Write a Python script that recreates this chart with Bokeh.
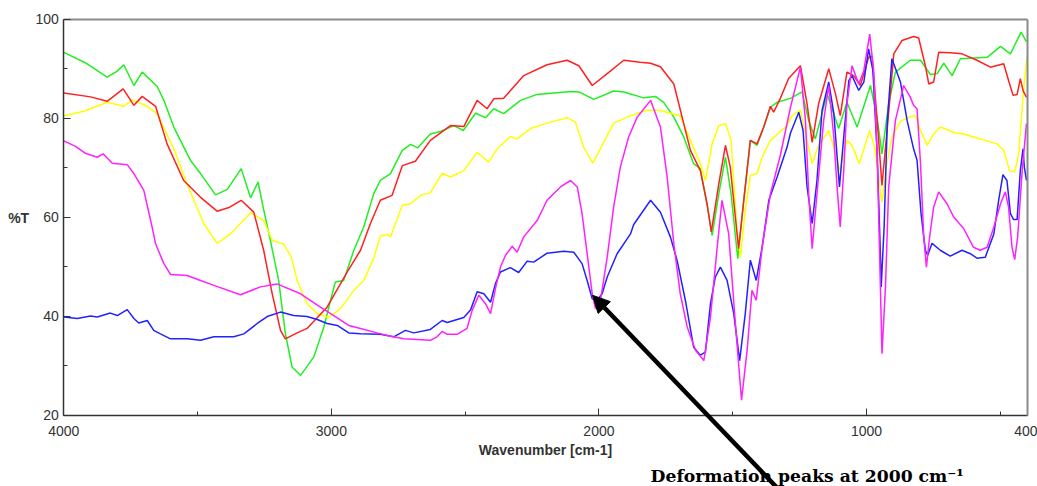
from bokeh.plotting import figure
from bokeh.models import Range1d, FixedTicker, Label, Arrow, NormalHead, LinearAxis
from bokeh.embed import file_html
from bokeh.resources import INLINE

# ---------------- data (wavenumber cm-1, %T) ----------------
green_wn = [4000, 3920, 3838, 3800, 3776, 3738, 3707, 3651, 3626, 3589, 3527, 3489, 3433, 3389, 3337, 3302, 3274, 3255,
            3228, 3197, 3172, 3147, 3115, 3066, 3028, 3003, 2985, 2954, 2916, 2879, 2842, 2817, 2779, 2735, 2704, 2677,
            2630, 2592, 2542, 2507, 2461, 2424, 2393, 2356, 2293, 2231, 2106, 2075, 2019, 1945, 1907, 1833, 1789, 1758,
            1720, 1683, 1646, 1621, 1596, 1577, 1552, 1527, 1506, 1481, 1459, 1434, 1409, 1384, 1359, 1334, 1284, 1241,
            1216, 1191, 1147, 1104, 1073, 1035, 985, 960, 942, 917, 892, 836, 798, 761, 736, 711, 680, 649, 549, 499,
            462, 422, 402]
green_t = [93.3, 91.2, 88.3, 89.5, 90.8, 86.6, 89.3, 86.4, 83.6, 78.2, 71.5, 68.8, 64.5, 65.6, 69.8, 63.9, 67.1, 62.0,
           55.3, 47.2, 36.5, 29.7, 28.0, 31.7, 37.8, 43.2, 46.9, 47.2, 53.3, 58.0, 64.7, 67.4, 68.8, 73.5, 74.7, 74.0,
           76.8, 77.3, 78.5, 77.5, 81.0, 80.1, 81.9, 80.9, 83.6, 84.8, 85.4, 85.3, 83.8, 85.5, 85.3, 84.1, 84.4, 83.2,
           80.2, 76.2, 70.8, 69.8, 62.7, 56.3, 64.7, 72.1, 64.7, 51.6, 63.4, 75.5, 74.5, 78.2, 82.2, 83.2, 84.0, 85.3,
           79.5, 75.8, 84.9, 77.9, 83.2, 78.2, 86.6, 80.0, 72.8, 82.9, 89.3, 91.7, 91.7, 88.8, 89.0, 91.1, 88.6, 92.0,
           92.3, 94.5, 93.0, 97.4, 95.4]

red_wn = [4000, 3900, 3838, 3778, 3738, 3707, 3657, 3614, 3552, 3489, 3427, 3380, 3337, 3290, 3253, 3221, 3190, 3172,
          3128, 3091, 3016, 2941, 2891, 2854, 2817, 2773, 2735, 2686, 2630, 2555, 2505, 2455, 2418, 2393, 2356, 2281,
          2194, 2119, 2075, 2025, 1969, 1907, 1846, 1807, 1770, 1720, 1683, 1658, 1621, 1596, 1580, 1552, 1527, 1509,
          1478, 1453, 1434, 1409, 1384, 1359, 1347, 1322, 1291, 1247, 1222, 1203, 1179, 1141, 1116, 1098, 1073, 1048,
          1023, 992, 979, 960, 942, 923, 898, 867, 824, 805, 780, 767, 749, 730, 687, 643, 587, 537, 487, 469, 452,
          437, 425, 415, 402]
red_t = [85.1, 84.3, 83.4, 85.9, 82.6, 84.4, 82.4, 74.8, 67.4, 64.0, 61.2, 62.0, 63.4, 61.0, 53.3, 44.5, 37.1, 35.4,
         36.6, 37.5, 41.8, 48.9, 53.3, 58.7, 63.4, 64.4, 70.4, 71.3, 75.5, 78.5, 78.3, 83.6, 81.9, 83.9, 84.0, 88.6,
         90.8, 91.7, 90.6, 86.6, 89.0, 91.7, 91.3, 91.1, 90.4, 86.9, 78.9, 73.5, 69.4, 62.7, 57.0, 66.7, 74.5, 70.1,
         53.6, 66.1, 75.5, 74.8, 78.2, 82.4, 81.2, 84.0, 88.0, 90.6, 82.9, 75.1, 82.9, 90.0, 84.9, 80.5, 89.3, 88.6,
         86.6, 92.3, 92.5, 79.5, 66.4, 77.5, 93.0, 95.7, 96.5, 96.2, 90.6, 86.9, 87.3, 93.3, 93.2, 93.0, 91.7, 90.3,
         91.0, 87.6, 84.6, 84.8, 88.0, 85.6, 84.2]

yellow_wn = [4000, 3925, 3838, 3776, 3744, 3688, 3651, 3589, 3539, 3477, 3427, 3377, 3302, 3253, 3221, 3178, 3150,
             3128, 3091, 3053, 3010, 2966, 2916, 2879, 2842, 2817, 2790, 2779, 2735, 2704, 2667, 2630, 2586, 2555,
             2505, 2455, 2412, 2380, 2331, 2306, 2256, 2194, 2119, 2088, 2057, 2023, 1988, 1945, 1882, 1820, 1776,
             1696, 1658, 1621, 1602, 1577, 1552, 1527, 1506, 1484, 1471, 1453, 1434, 1409, 1390, 1359, 1322, 1297,
             1278, 1247, 1222, 1203, 1179, 1141, 1122, 1100, 1073, 1054, 1027, 988, 969, 954, 942, 926, 905, 873, 836,
             817, 798, 773, 749, 724, 668, 637, 587, 512, 487, 465, 446, 431, 412, 400]
yellow_t = [80.5, 81.4, 83.2, 82.4, 83.7, 82.4, 80.9, 73.8, 66.7, 58.7, 54.7, 56.6, 60.9, 59.3, 55.3, 54.5, 52.0,
            47.2, 42.5, 40.5, 39.7, 41.5, 45.2, 47.2, 51.6, 56.2, 56.5, 56.0, 62.4, 62.7, 64.4, 64.9, 68.9, 68.1,
            69.4, 73.1, 71.1, 73.8, 76.3, 75.8, 77.9, 79.0, 80.1, 79.2, 74.1, 70.9, 74.5, 79.0, 80.5, 81.6, 81.6,
            80.5, 75.5, 70.8, 67.4, 74.8, 78.5, 78.9, 75.5, 57.3, 51.9, 61.4, 68.4, 68.8, 72.1, 75.5, 77.3, 78.5,
            80.5, 81.6, 75.5, 70.8, 74.5, 77.5, 74.1, 69.4, 75.5, 74.5, 70.8, 77.5, 74.1, 67.4, 63.0, 70.1, 76.2,
            79.4, 80.3, 80.5, 77.5, 74.5, 76.8, 78.2, 77.0, 76.8, 76.0, 74.8, 73.5, 69.4, 69.1, 72.8, 86.3, 92.3]

magenta_wn = [4000, 3956, 3919, 3875, 3853, 3819, 3763, 3738, 3701, 3670, 3657, 3626, 3601, 3539, 3489, 3439, 3340,
              3265, 3203, 3115, 3041, 2991, 2935, 2891, 2829, 2779, 2729, 2630, 2605, 2586, 2567, 2530, 2493, 2474,
              2449, 2424, 2405, 2387, 2368, 2349, 2324, 2306, 2281, 2231, 2194, 2144, 2106, 2081, 2063, 2044, 2025,
              2013, 1994, 1969, 1945, 1920, 1889, 1857, 1807, 1770, 1745, 1720, 1696, 1670, 1639, 1608, 1583, 1558,
              1540, 1515, 1490, 1467, 1446, 1428, 1412, 1390, 1359, 1322, 1284, 1247, 1228, 1216, 1203, 1185, 1160,
              1141, 1122, 1110, 1098, 1085, 1073, 1054, 1029, 1010, 988, 973, 960, 951, 942, 929, 917, 892, 861, 836,
              824, 811, 798, 786, 776, 764, 749, 730, 699, 674, 637, 600, 575, 549, 524, 499, 481, 469, 456, 446, 435,
              418, 402]
magenta_t = [75.4, 74.3, 72.9, 72.1, 72.8, 70.9, 70.6, 68.8, 65.4, 58.0, 54.6, 50.6, 48.4, 48.2, 47.2, 46.2, 44.3,
             45.9, 46.5, 44.5, 41.8, 40.1, 38.1, 37.5, 36.6, 35.9, 35.4, 35.1, 35.8, 36.9, 36.3, 36.3, 37.5, 41.1,
             44.2, 42.5, 40.5, 45.5, 49.9, 52.3, 54.1, 52.9, 56.0, 59.3, 63.4, 66.1, 67.4, 66.1, 60.7, 52.6, 44.5,
             41.5, 43.2, 51.9, 62.0, 70.1, 76.2, 80.2, 83.6, 78.2, 68.1, 54.6, 44.5, 37.8, 33.1, 31.0, 39.8, 53.9,
             63.4, 56.6, 38.5, 23.0, 33.1, 45.2, 43.2, 53.9, 64.7, 72.5, 82.2, 90.3, 79.5, 64.7, 53.6, 64.7, 79.5,
             86.6, 76.2, 66.1, 58.0, 69.4, 82.9, 90.6, 86.9, 89.6, 97.0, 89.6, 72.8, 52.6, 32.4, 45.9, 66.1, 79.5,
             86.6, 84.2, 82.6, 81.9, 70.8, 56.0, 49.9, 56.0, 62.0, 65.1, 62.7, 60.0, 57.7, 53.9, 53.3, 53.9, 58.0,
             62.7, 65.1, 62.0, 53.9, 51.4, 56.0, 69.4, 78.9]

blue_wn = [4000, 3950, 3900, 3875, 3826, 3800, 3763, 3738, 3720, 3688, 3664, 3639, 3601, 3539, 3489, 3439, 3365, 3327,
           3277, 3240, 3190, 3141, 3091, 3053, 3016, 2978, 2935, 2891, 2817, 2767, 2723, 2692, 2630, 2586, 2567, 2505,
           2480, 2455, 2430, 2405, 2387, 2368, 2331, 2300, 2268, 2244, 2194, 2131, 2094, 2063, 2044, 2025, 2007, 1988,
           1969, 1932, 1882, 1870, 1807, 1770, 1733, 1708, 1677, 1646, 1621, 1602, 1583, 1565, 1546, 1521, 1496, 1474,
           1453, 1434, 1412, 1390, 1365, 1334, 1297, 1284, 1253, 1237, 1222, 1203, 1185, 1166, 1141, 1122, 1101, 1085,
           1066, 1054, 1029, 1010, 992, 976, 960, 948, 945, 934, 922, 905, 873, 848, 824, 811, 796, 780, 771, 755, 724,
           687, 643, 612, 587, 556, 524, 506, 490, 475, 462, 450, 437, 425, 415, 410, 402]
blue_t = [39.8, 39.5, 40.0, 39.8, 40.6, 40.1, 41.3, 39.5, 38.6, 39.1, 37.1, 36.4, 35.4, 35.4, 35.1, 35.8, 35.8, 36.4,
          38.5, 39.9, 40.8, 40.1, 39.9, 39.3, 38.5, 38.1, 36.6, 36.4, 36.3, 35.8, 37.1, 36.6, 37.3, 39.1, 38.7, 39.7,
          41.2, 44.9, 44.5, 42.8, 46.5, 48.9, 49.8, 48.8, 51.1, 50.9, 52.7, 53.1, 52.9, 50.6, 47.2, 43.5, 43.2, 44.5,
          47.9, 52.6, 56.6, 58.5, 63.4, 61.0, 56.0, 51.3, 43.2, 33.7, 32.1, 32.7, 42.5, 47.9, 49.9, 47.2, 40.5, 31.0,
          40.5, 51.3, 47.2, 53.9, 63.4, 68.1, 74.1, 77.0, 81.2, 77.5, 66.1, 58.7, 67.4, 81.6, 87.3, 80.9, 66.1, 76.2,
          87.6, 88.6, 85.6, 87.3, 94.0, 89.6, 72.8, 52.6, 45.9, 58.0, 79.5, 92.0, 87.3, 79.5, 73.8, 71.5, 60.7, 53.3,
          52.3, 54.7, 53.3, 52.1, 53.3, 52.6, 51.7, 51.9, 56.6, 63.4, 68.6, 67.4, 60.7, 59.5, 59.5, 69.4, 73.8, 70.1,
          67.4]

x_ticks = [4000, 3000, 2000, 1000, 400]
x_minor = [3500, 2500, 1500, 500]
y_ticks = [20, 40, 60, 80, 100]
y_minor = [30, 50, 70, 90]

# annotation anchor: arrow from the text up to the 2000 cm-1 dip
arrow_head = (2024, 44.2)
arrow_tail = (1320, 4.5)

# ---------------- figure ----------------
# The frame fills the whole canvas so nothing (tick labels, annotation) is clipped;
# the four axes are pinned at the spectrum's limits (4000/400 cm-1, 20/100 %T).
p = figure(width=1037, height=486, output_backend="svg", toolbar_location=None,
           x_range=Range1d(4236.6, 360.8), y_range=Range1d(5.55, 103.78),
           min_border_left=0, min_border_right=0, min_border_top=0, min_border_bottom=0)
p.background_fill_color = "white"
p.border_fill_color = "white"
p.outline_line_color = None
p.xgrid.visible = False
p.ygrid.visible = False

for ax, ticks, minor in ((p.xaxis[0], x_ticks, x_minor), (p.yaxis[0], y_ticks, y_minor)):
    ax.ticker = FixedTicker(ticks=ticks, minor_ticks=minor)
    ax.major_tick_in = 7
    ax.major_tick_out = 0
    ax.minor_tick_in = 4
    ax.minor_tick_out = 0
    ax.axis_line_color = "#333333"
    ax.axis_line_width = 1.5
    ax.major_tick_line_color = "#333333"
    ax.minor_tick_line_color = "#333333"
    ax.major_label_text_font = "Liberation Sans"
    ax.major_label_text_font_size = "14px"
    ax.major_label_text_color = "#333333"
    ax.axis_label_text_font = "Liberation Sans"
    ax.axis_label_text_font_size = "14px"
    ax.axis_label_text_font_style = "bold"
    ax.axis_label_text_color = "#333333"

p.xaxis.fixed_location = 20
p.xaxis.bounds = (400, 4000)
p.xaxis.axis_label = "Wavenumber [cm-1]"
p.xaxis.major_label_standoff = 11
p.xaxis.axis_label_standoff = 2
p.yaxis.fixed_location = 4000
p.yaxis.bounds = (20, 100)
p.yaxis.axis_label = "%T"
p.yaxis.axis_label_orientation = "horizontal"
p.yaxis.major_label_standoff = 5
p.yaxis.axis_label_standoff = 3

# grey frame lines on top and right
top_border = LinearAxis(ticker=FixedTicker(ticks=[]), axis_line_color="#8a8a8a", axis_line_width=2,
                        major_tick_line_color=None, minor_tick_line_color=None,
                        fixed_location=100, bounds=(400, 4000))
right_border = LinearAxis(ticker=FixedTicker(ticks=[]), axis_line_color="#8a8a8a", axis_line_width=2,
                          major_tick_line_color=None, minor_tick_line_color=None,
                          fixed_location=400, bounds=(20, 100))
p.add_layout(top_border, "above")
p.add_layout(right_border, "right")

p.line(green_wn, green_t, line_color="#22ee22", line_width=1.5)
p.line(yellow_wn, yellow_t, line_color="#ffff00", line_width=1.5)
p.line(red_wn, red_t, line_color="#ff2020", line_width=1.5)
p.line(blue_wn, blue_t, line_color="#2222ff", line_width=1.5)
p.line(magenta_wn, magenta_t, line_color="#ff22ff", line_width=1.5)

# ---------------- annotation ----------------
p.add_layout(Arrow(end=NormalHead(size=17, fill_color="black", line_color="black"),
                   x_start=arrow_tail[0], y_start=arrow_tail[1], x_end=arrow_head[0], y_end=arrow_head[1],
                   line_color="black", line_width=4.5))
p.add_layout(Label(x=1807, y=7.6, text="Deformation peaks at 2000 cm\u207b\u00b9",
                   text_font="DejaVu Serif", text_font_style="bold", text_font_size="17.2px",
                   text_color="black", text_baseline="alphabetic", text_align="left"))

open("out.html", "w").write(file_html(p, INLINE))
